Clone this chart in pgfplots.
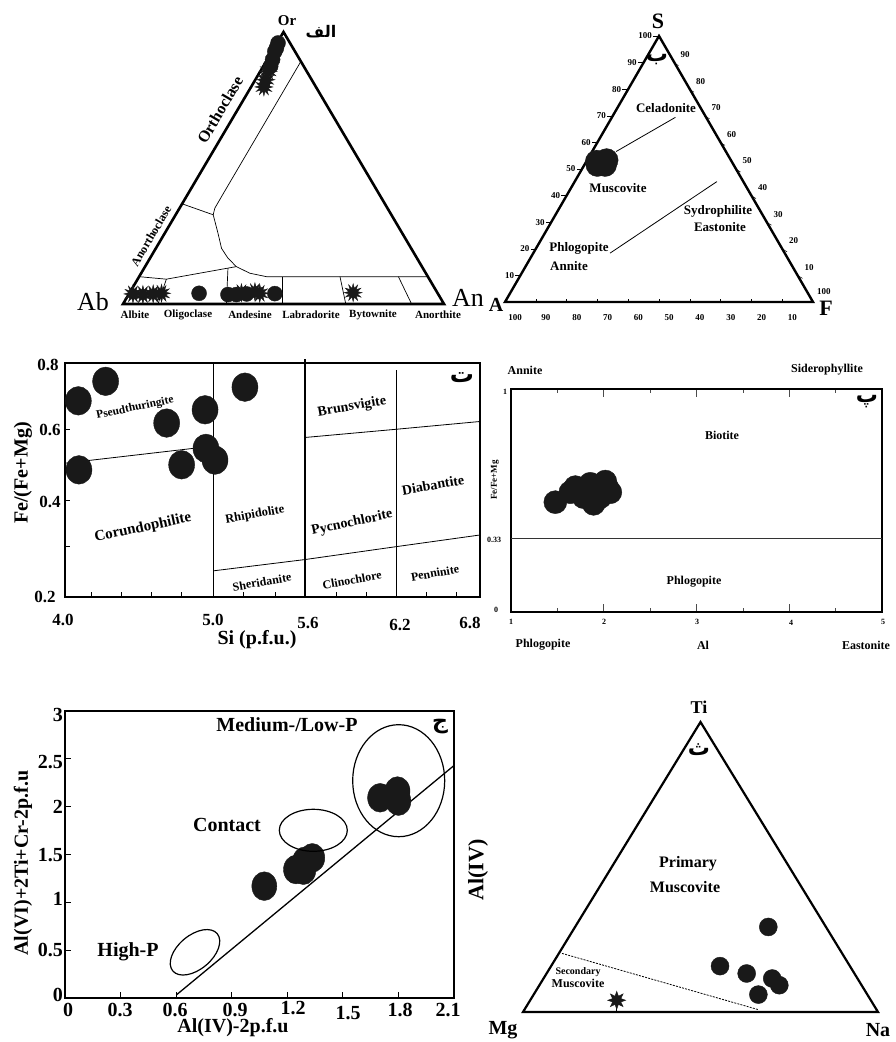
\documentclass[border=0pt]{standalone}
\usepackage{pgfplots}
\pgfplotsset{compat=1.18}
\usepackage{fontspec}
\setmainfont{Liberation Serif}
\newfontfamily\arabicfont[Script=Arabic]{DejaVu Sans}
\TeXXeTstate=1
\newcommand\fs[1]{\fontsize{#1}{#1}\selectfont}
\newcommand\ar[1]{{\arabicfont\bfseries\beginR #1\endR}}
\def\bo#1{\pgfpathlineto{\pgfpointpolar{#1}{\pgfplotmarksize}}}
\def\bi#1{\pgfpathlineto{\pgfpointpolar{#1}{0.5\pgfplotmarksize}}}
\pgfdeclareplotmark{burst}{%
 \pgfpathmoveto{\pgfpointpolar{90}{\pgfplotmarksize}}%
 \bi{105}\bo{120}\bi{135}\bo{150}\bi{165}\bo{180}\bi{195}\bo{210}\bi{225}\bo{240}\bi{255}%
 \bo{270}\bi{285}\bo{300}\bi{315}\bo{330}\bi{345}\bo{360}\bi{375}\bo{390}\bi{405}\bo{420}\bi{435}%
 \pgfpathclose\pgfusepathqfillstroke}
\pgfdeclareplotmark{star8}{%
 \pgfpathmoveto{\pgfpointpolar{90}{\pgfplotmarksize}}%
 \bi{112.5}\bo{135}\bi{157.5}\bo{180}\bi{202.5}\bo{225}\bi{247.5}\bo{270}\bi{292.5}\bo{315}\bi{337.5}\bo{360}\bi{382.5}\bo{405}\bi{427.5}%
 \pgfpathclose\pgfusepathqfillstroke}
\tikzset{lb/.style={inner sep=0pt, font=\fs{#1}\bfseries}}
\begin{document}
\begin{tikzpicture}
\path[use as bounding box] (0,0) rectangle (895pt,1042pt);

%================ Panel 1 : feldspar ternary ================
\begin{axis}[at={(123pt,738pt)}, anchor=south west, scale only axis, width=321pt, height=272pt,
  xmin=0, xmax=100, ymin=0, ymax=86.6, hide axis, clip=false]
\addplot[black, line width=2.6pt, line join=miter] coordinates {(0,0)(100,0)(50,86.6)} -- cycle;
\addplot[black, line width=0.7pt] coordinates {(55.4,77.2)(30.7,34.2)(28.6,30.5)(28.1,28.4)(29.6,22.5)(30.7,17.7)(32.7,14.6)(35.3,11.9)(39.5,9.8)(44.7,8.7)(95.0,8.7)};
\addplot[black, line width=0.7pt] coordinates {(18.4,31.9)(28.1,28.4)};
\addplot[black, line width=0.7pt] coordinates {(5.0,8.7)(13.5,7.9)(35.3,11.9)};
\addplot[black, line width=0.7pt] coordinates {(13.5,7.9)(10.9,0)};
\addplot[black, line width=0.7pt] coordinates {(32.7,11.4)(32.2,0)};
\addplot[black, line width=0.7pt] coordinates {(49.7,8.7)(49.7,0)};
\addplot[black, line width=0.7pt] coordinates {(67.6,8.7)(69.4,0)};
\addplot[black, line width=0.7pt] coordinates {(85.8,8.7)(89.9,0)};
% circles
\addplot[only marks, mark=*, mark size=7.5pt, mark options={fill=black!90, draw=black!90}] coordinates {
 (48.3,83.1)(47.8,81.5)(47.3,80.4)(46.6,77.8)(46.0,75.7)(23.7,3.4)(32.7,3.0)(35.3,3.0)(38.5,3.2)(47.3,3.3)};
% stars
\addplot[only marks, mark=burst, mark size=9pt, mark options={fill=black!90, draw=black!90}] coordinates {
 (45.2,74.1)(44.5,71.4)(43.9,69.1)(3.1,3.2)(6.2,3.0)(9.4,3.2)(12.0,3.4)(36.9,3.6)(41.1,3.9)(42.6,3.4)(71.7,3.6)};
\end{axis}
\node[lb=15] at (287pt,1021pt) {Or};
\node[inner sep=0pt, font=\fs{16}] at (321pt,1010pt) {\ar{الف}};
\node[inner sep=0pt, font=\fs{26}] at (93pt,740pt) {Ab};
\node[inner sep=0pt, font=\fs{26}] at (468pt,744pt) {An};
\node[lb=11] at (135pt,727pt) {Albite};
\node[lb=11] at (188pt,727pt) {Oligoclase};
\node[lb=11] at (250pt,727pt) {Andesine};
\node[lb=11] at (311pt,727pt) {Labradorite};
\node[lb=11] at (373pt,727pt) {Bytownite};
\node[lb=11] at (438pt,727pt) {Anorthite};
\node[lb=16, rotate=59.5] at (220pt,932pt) {Orthoclase};
\node[lb=12, rotate=59.5] at (151pt,806pt) {Anorthoclase};

%================ Panel 2 : S-A-F ternary ================
\begin{axis}[at={(505pt,740pt)}, anchor=south west, scale only axis, width=308pt, height=266pt,
  xmin=0, xmax=100, ymin=0, ymax=86.6, hide axis, clip=false]
\addplot[black, line width=2.4pt, line join=miter] coordinates {(0,0)(100,0)(50,86.6)} -- cycle;
\addplot[black, line width=0.8pt] coordinates {(55.3,60.1)(36.1,49.0)};
\addplot[black, line width=0.8pt] coordinates {(68.8,39.2)(34.1,15.9)};
\addplot[only marks, mark=*, mark size=11.5pt, mark options={fill=black!90, draw=black!90}] coordinates {
 (29.8,45.7)(33.0,46.2)(32.5,44.6)(30.0,44.6)};
\end{axis}
\foreach \v in {10,20,...,100}{
  \pgfmathsetmacro\t{\v/100}
  \pgfmathsetmacro\xx{505+153*\t}
  \pgfmathsetmacro\yy{740+266*\t}
  \pgfmathsetmacro\xl{499+153*\t}
  \draw[line width=0.5pt] (\xx pt,\yy pt) -- ++(-5pt,0pt);
  \node[lb=9, anchor=east] at (\xl pt,\yy pt) {\v};
}
\foreach \v in {10,20,...,90}{
  \pgfmathsetmacro\t{\v/100}
  \pgfmathsetmacro\xx{813-155*\t}
  \pgfmathsetmacro\yy{740+266*\t}
  \pgfmathsetmacro\xl{820-155*\t}
  \pgfmathsetmacro\yl{748+266*\t}
  \draw[line width=0.5pt] (\xx pt,\yy pt) -- ++(5pt,-3pt);
  \node[lb=9, anchor=west] at (\xl pt,\yl pt) {\v};
}
\node[lb=9, anchor=west] at (817pt,750pt) {100};
\foreach \v in {10,20,...,100}{
  \pgfmathsetmacro\xl{505+(103.3-\v)*3.08}
  \node[lb=9] at (\xl pt,724pt) {\v};
}
\foreach \v in {10,20,...,90}{
  \pgfmathsetmacro\xx{505+3.08*\v}
  \draw[line width=0.4pt] (\xx pt,740pt) -- ++(0pt,3pt);
}
\node[lb=22] at (658pt,1021pt) {S};
\node[inner sep=0pt, font=\fs{22}] at (657pt,982pt) {\ar{ب}};
\node[lb=20] at (496pt,737pt) {A};
\node[lb=22] at (826pt,734pt) {F};
\node[lb=13] at (666pt,934pt) {Celadonite};
\node[lb=13] at (618pt,854pt) {Muscovite};
\node[lb=13] at (718pt,831pt) {Sydrophilite};
\node[lb=13] at (720pt,815pt) {Eastonite};
\node[lb=13] at (579pt,794pt) {Phlogopite};
\node[lb=13] at (569pt,776pt) {Annite};

%================ Panel 3 : chlorite ================
\begin{axis}[at={(65pt,445pt)}, anchor=south west, scale only axis, width=415pt, height=234pt,
  xmin=4, xmax=6.8, ymin=0.2, ymax=0.8, clip=false,
  axis line style={line width=1.4pt},
  xtick={4.18,4.382,4.585,4.787,5.0,5.203,5.417,5.619,5.833,6.035,6.238,6.44,6.643},
  ytick={0.3286,0.4469,0.6286}, xticklabels={}, yticklabels={},
  tick pos=left, tick align=inside, major tick length=5pt, tick style={black, line width=0.9pt}]
\addplot[black, line width=0.8pt] coordinates {(4.0,0.543)(5.0,0.587)};
\addplot[black, line width=0.8pt] coordinates {(5.0,0.267)(5.619,0.296)(6.233,0.329)(6.8,0.359)};
\addplot[black, line width=0.8pt] coordinates {(5.619,0.609)(6.233,0.630)(6.8,0.65)};
\addplot[black, line width=0.9pt] coordinates {(5.0,0.2)(5.0,0.8)};
\addplot[black, line width=1.2pt] coordinates {(5.619,0.2)(5.619,0.81)};
\addplot[black, line width=0.9pt] coordinates {(6.233,0.2)(6.233,0.783)};
\addplot[only marks, mark=*, mark size=13pt, mark options={fill=black!90, draw=black!90, yscale=1.1}] coordinates {
 (4.09,0.703)(4.274,0.753)(4.686,0.646)(4.945,0.68)(5.214,0.738)(4.094,0.526)(4.787,0.539)(4.951,0.581)(5.012,0.551)};
\end{axis}
\node[lb=17] at (48pt,677pt) {0.8};
\node[lb=17] at (50pt,612pt) {0.6};
\node[lb=17] at (50pt,540pt) {0.4};
\node[lb=17] at (45pt,445pt) {0.2};
\node[lb=17] at (63pt,422pt) {4.0};
\node[lb=17] at (213pt,422pt) {5.0};
\node[lb=17] at (308pt,419pt) {5.6};
\node[lb=17] at (400pt,417pt) {6.2};
\node[lb=17] at (470pt,419pt) {6.8};
\node[lb=20, rotate=90] at (23pt,569pt) {Fe/(Fe+Mg)};
\node[lb=20] at (257pt,402pt) {Si (p.f.u.)};
\node[inner sep=0pt, font=\fs{24}] at (462pt,664pt) {\ar{ت}};
\node[lb=11.5, rotate=12] at (135pt,634pt) {Pseudthuringite};
\node[lb=15, rotate=12] at (143pt,514pt) {Corundophilite};
\node[lb=12.5, rotate=10] at (255pt,527pt) {Rhipidolite};
\node[lb=14, rotate=10] at (352pt,635pt) {Brunsvigite};
\node[lb=14, rotate=12] at (352pt,519pt) {Pycnochlorite};
\node[lb=14, rotate=10] at (433pt,557pt) {Diabantite};
\node[lb=12, rotate=10] at (262pt,460pt) {Sheridanite};
\node[lb=12, rotate=10] at (352pt,462pt) {Clinochlore};
\node[lb=12, rotate=10] at (435pt,469pt) {Penninite};

%================ Panel 4 : biotite ================
\begin{axis}[at={(511pt,430pt)}, anchor=south west, scale only axis, width=371pt, height=223pt,
  xmin=1, xmax=5, ymin=0, ymax=1, clip=false,
  axis line style={line width=1.8pt},
  xtick={2,3,4}, minor xtick={1.5,2.5,3.5,4.5}, ytick=\empty, xticklabels={},
  tick align=inside, major tick length=8pt, minor tick length=4pt, tick style={black!70, line width=0.7pt}]
\addplot[black!80, line width=1.1pt] coordinates {(1,0.33)(5,0.33)};
\addplot[only marks, mark=*, mark size=11.5pt, mark options={fill=black!90, draw=black!90}] coordinates {
 (1.478,0.4925)(1.64,0.537)(1.694,0.56)(1.855,0.575)(2.017,0.585)(2.071,0.537)(1.891,0.485)(1.783,0.515)(1.963,0.515)(2.035,0.56)};
\end{axis}
\node[lb=12] at (525pt,672pt) {Annite};
\node[lb=12] at (827pt,672pt) {Siderophyllite};
\node[lb=12] at (722pt,607pt) {Biotite};
\node[lb=12] at (694pt,460pt) {Phlogopite};
\node[lb=12] at (543pt,397pt) {Phlogopite};
\node[lb=12] at (703pt,397pt) {Al};
\node[lb=12] at (866pt,397pt) {Eastonite};
\node[lb=8] at (511pt,420pt) {1};
\node[lb=8] at (604pt,420pt) {2};
\node[lb=8] at (697pt,420pt) {3};
\node[lb=8] at (791pt,419pt) {4};
\node[lb=8] at (883pt,420pt) {5};
\node[lb=8] at (505pt,650pt) {1};
\node[lb=8] at (494pt,502pt) {0.33};
\node[lb=8] at (496pt,432pt) {0};
\node[lb=9, rotate=90] at (495pt,562pt) {Fe/Fe+Mg};
\node[inner sep=0pt, font=\fs{22}] at (867pt,640pt) {\ar{پ}};

%================ Panel 5 : phengite pressure ================
\begin{axis}[at={(65pt,44pt)}, anchor=south west, scale only axis, width=389pt, height=287pt,
  xmin=0, xmax=2.1, ymin=0, ymax=3, clip=false,
  axis line style={line width=1.8pt},
  xtick={0.3,0.6,0.9,1.2,1.5,1.8}, ytick={0.5,1,1.5,2,2.5}, xticklabels={}, yticklabels={},
  tick pos=left, tick align=inside, major tick length=6pt, tick style={black, line width=0.8pt}]
\addplot[black, line width=1.3pt] coordinates {(0.603,0.035)(2.1,2.43)};
\addplot[only marks, mark=*, mark size=12.5pt, mark options={fill=black!90, draw=black!90, yscale=1.15}] coordinates {
 (1.076,1.169)(1.247,1.343)(1.287,1.336)(1.335,1.465)(1.296,1.430)(1.701,2.093)(1.795,2.163)(1.8,2.058)};
\end{axis}
\draw[line width=1.2pt, rotate around={40:(195pt,89.7pt)}] (195pt,89.7pt) ellipse [x radius=29pt, y radius=17pt];
\draw[line width=1.2pt] (313.3pt,211.7pt) ellipse [x radius=34pt, y radius=21pt];
\draw[line width=1.2pt] (398.7pt,261.3pt) ellipse [x radius=46pt, y radius=56pt];
\node[lb=20, anchor=east] at (63pt,327pt) {3};
\node[lb=20, anchor=east] at (63pt,280pt) {2.5};
\node[lb=20, anchor=east] at (63pt,235pt) {2};
\node[lb=20, anchor=east] at (63pt,187pt) {1.5};
\node[lb=20, anchor=east] at (63pt,143pt) {1};
\node[lb=20, anchor=east] at (63pt,92pt) {0.5};
\node[lb=20, anchor=east] at (63pt,47pt) {0};
\node[lb=20] at (68pt,32pt) {0};
\node[lb=20] at (120pt,32pt) {0.3};
\node[lb=20] at (175pt,32pt) {0.6};
\node[lb=20] at (235pt,32pt) {0.9};
\node[lb=20] at (293pt,34pt) {1.2};
\node[lb=20] at (348pt,29pt) {1.5};
\node[lb=20] at (400pt,32pt) {1.8};
\node[lb=20] at (448pt,32pt) {2.1};
\node[lb=20, rotate=90] at (23pt,179pt) {Al(VI)+2Ti+Cr-2p.f.u};
\node[lb=20] at (233pt,14pt) {Al(IV)-2p.f.u};
\node[lb=20] at (287pt,317pt) {Medium-/Low-P};
\node[lb=20] at (227pt,217pt) {Contact};
\node[lb=20] at (128pt,90pt) {High-P};
\node[inner sep=0pt, font=\fs{22}] at (440pt,315pt) {\ar{ج}};

%================ Panel 6 : Ti-Mg-Na ternary ================
\begin{axis}[at={(523pt,30pt)}, anchor=south west, scale only axis, width=355pt, height=290pt,
  xmin=0, xmax=100, ymin=0, ymax=86.6, hide axis, clip=false]
\addplot[black, line width=2.2pt, line join=miter] coordinates {(0,0)(100,0)(50,86.6)} -- cycle;
\addplot[black, line width=0.8pt, dash pattern=on 2pt off 1.2pt] coordinates {(11.0,17.5)(66.3,0.7)};
\addplot[black, line width=0.8pt] coordinates {(26.4,0)(26.4,3.5)};
\addplot[only marks, mark=*, mark size=9pt, mark options={fill=black!90, draw=black!90}] coordinates {
 (69.1,25.4)(55.5,13.7)(63.0,11.5)(70.2,10.0)(72.2,8.0)(66.3,5.2)};
\addplot[only marks, mark=star8, mark size=9pt, mark options={fill=black!90, draw=black!90}] coordinates {(26.4,3.5)};
\end{axis}
\node[lb=18] at (699pt,335pt) {Ti};
\node[inner sep=0pt, font=\fs{22}] at (699pt,292pt) {\ar{ث}};
\node[lb=20] at (503pt,12pt) {Mg};
\node[lb=20] at (878pt,12pt) {Na};
\node[lb=16] at (688pt,178pt) {Primary};
\node[lb=16] at (685pt,155pt) {Muscovite};
\node[lb=10] at (578pt,70pt) {Secondary};
\node[lb=12] at (578pt,59pt) {Muscovite};
\node[lb=22, rotate=90] at (478pt,172pt) {Al(IV)};
\end{tikzpicture}
\end{document}
